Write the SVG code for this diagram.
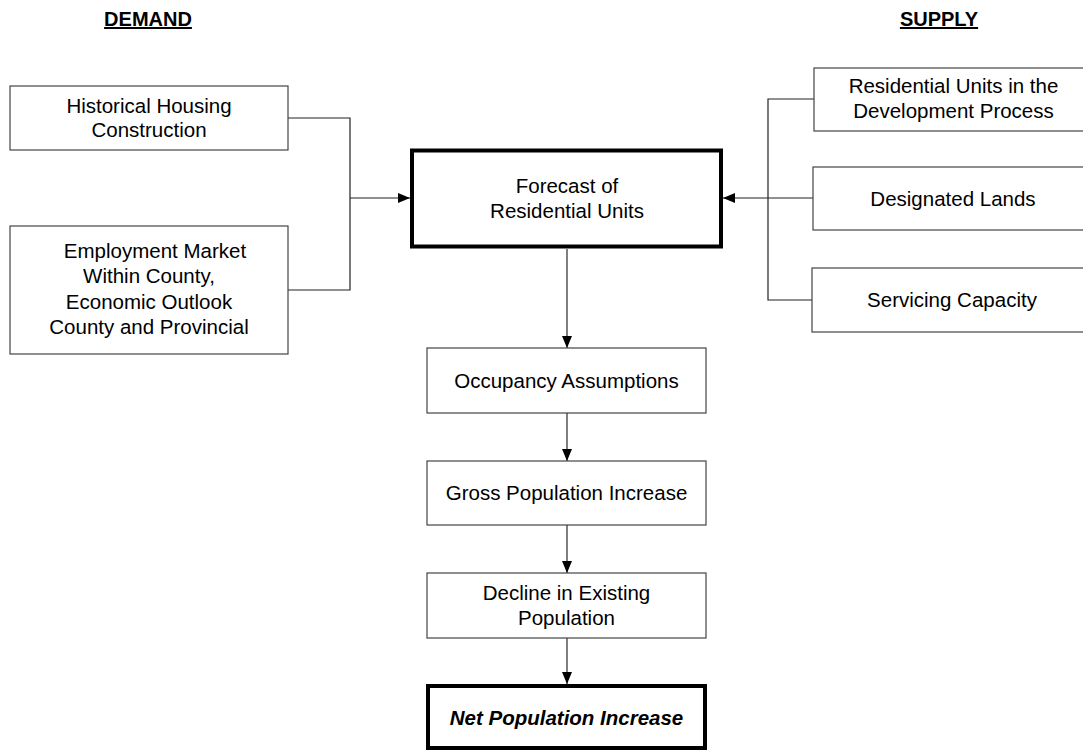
<svg xmlns="http://www.w3.org/2000/svg" width="1083" height="751" viewBox="0 0 1083 751">
<defs>
<marker id="arr" markerUnits="userSpaceOnUse" markerWidth="12" markerHeight="12" viewBox="0 0 12 12" refX="12" refY="6" orient="auto">
<path d="M0,1 L12,6 L0,11 Z" fill="#000"/>
</marker>
</defs>
<style>
.box{fill:#fff;stroke:#444;stroke-width:1.2}
.thick{fill:#fff;stroke:#000;stroke-width:4}
.t{font-family:"Liberation Sans",Arial,sans-serif;font-size:20.5px;fill:#000;text-anchor:middle}
.h{font-family:"Liberation Sans",Arial,sans-serif;font-size:20px;font-weight:bold;fill:#000;text-anchor:middle;text-decoration:underline}
.c{fill:none;stroke:#222;stroke-width:1.2}
.cg{fill:none;stroke:#555;stroke-width:1.5}
</style>
<rect width="1083" height="751" fill="#fff"/>
<g id="heading-demand"><text class="h" x="148" y="26">DEMAND</text></g>
<g id="heading-supply"><text class="h" x="939" y="26">SUPPLY</text></g>

<g id="connectors">
<path class="c" d="M288,118 H350 V290 H288"/>
<path class="c" d="M350,198 H410" marker-end="url(#arr)"/>
<path class="c" d="M814,99 H768 V300 H812"/>
<path class="c" d="M813,198 H723" marker-end="url(#arr)"/>
<path class="cg" d="M567,249 V348" marker-end="url(#arr)"/>
<path class="cg" d="M567,413 V461" marker-end="url(#arr)"/>
<path class="cg" d="M567,525 V573" marker-end="url(#arr)"/>
<path class="cg" d="M567,638 V684" marker-end="url(#arr)"/>
</g>

<g id="historical">
<rect class="box" x="10" y="86" width="278" height="64"/>
<text class="t" x="149" y="113">Historical Housing</text>
<text class="t" x="149" y="137">Construction</text>
</g>
<g id="employment">
<rect class="box" x="10" y="226" width="278" height="128"/>
<text class="t" x="155" y="258">Employment Market</text>
<text class="t" x="149" y="283">Within County,</text>
<text class="t" x="149" y="309">Economic Outlook</text>
<text class="t" x="149" y="334">County and Provincial</text>
</g>
<g id="forecast">
<rect class="thick" x="412" y="150.5" width="309" height="96"/>
<text class="t" x="567" y="192.5">Forecast of</text>
<text class="t" x="567" y="217.5">Residential Units</text>
</g>
<g id="residential-units">
<rect class="box" x="814" y="68" width="279" height="63"/>
<text class="t" x="953.5" y="93">Residential Units in the</text>
<text class="t" x="953.5" y="118">Development Process</text>
</g>
<g id="designated">
<rect class="box" x="813" y="167" width="280" height="63"/>
<text class="t" x="953" y="205.5">Designated Lands</text>
</g>
<g id="servicing">
<rect class="box" x="812" y="268" width="281" height="64"/>
<text class="t" x="952" y="307">Servicing Capacity</text>
</g>
<g id="occupancy">
<rect class="box" x="427" y="348" width="279" height="65"/>
<text class="t" x="566.5" y="387.5">Occupancy Assumptions</text>
</g>
<g id="gross">
<rect class="box" x="427" y="461" width="279" height="64"/>
<text class="t" x="566.5" y="500">Gross Population Increase</text>
</g>
<g id="decline">
<rect class="box" x="427" y="573" width="279" height="65"/>
<text class="t" x="566.5" y="600">Decline in Existing</text>
<text class="t" x="566.5" y="625">Population</text>
</g>
<g id="net">
<rect class="thick" x="428" y="686" width="277" height="62"/>
<text class="t" x="566.5" y="725" font-weight="bold" font-style="italic">Net Population Increase</text>
</g>
</svg>
